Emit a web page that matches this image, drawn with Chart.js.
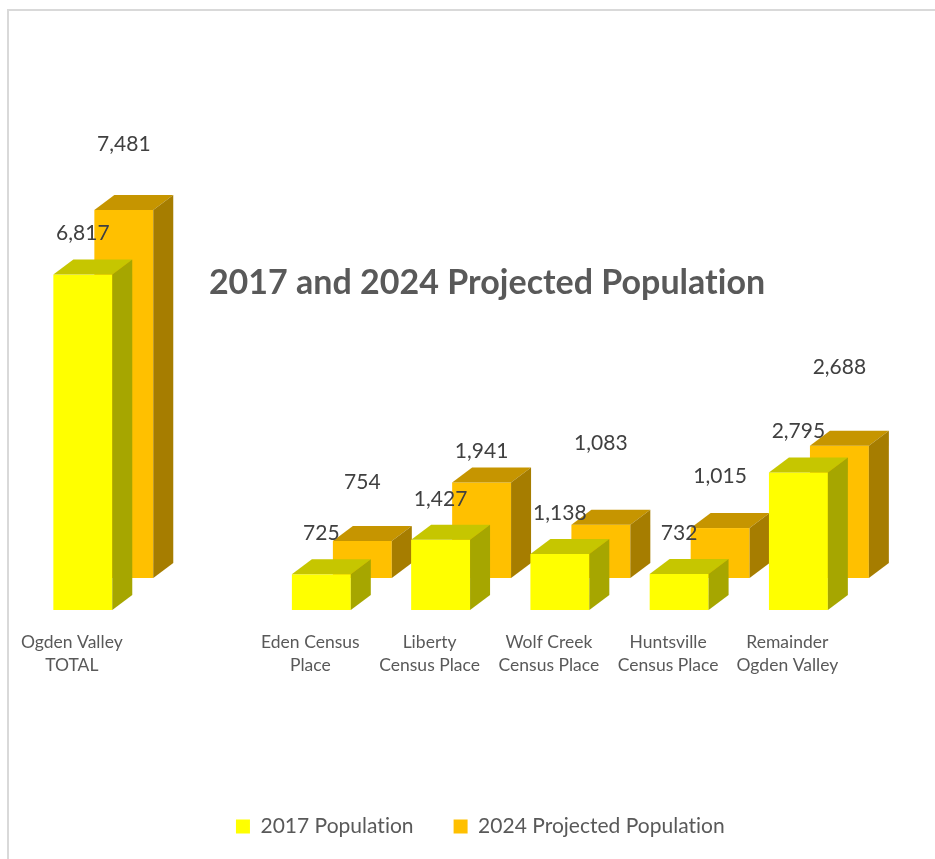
<!DOCTYPE html>
<html>
<head>
<meta charset="utf-8">
<script src="https://cdn.jsdelivr.net/npm/chart.js@4"></script>
<style>
	html, body { margin: 0; padding: 0; background: #ffffff; }
	#wrap { position: relative; width: 935px; height: 859px; }
</style>
</head>
<body>
<div id="wrap"><canvas id="chart"></canvas></div>
<script>
const categories = [
	['Ogden Valley', 'TOTAL'],
	'',
	['Eden Census', 'Place'],
	['Liberty', 'Census Place'],
	['Wolf Creek', 'Census Place'],
	['Huntsville', 'Census Place'],
	['Remainder', 'Ogden Valley']
];
const population2017 = [6817, null, 725, 1427, 1138, 732, 2795];
const population2024 = [7481, null, 754, 1941, 1083, 1015, 2688];
// how far the 2024 labels sit above their bars in the original (px)
const label2024Lift = [66, null, 59, 31, 81, 52, 79];

const chartTitle = '2017 and 2024 Projected Population';
const faceColors = [
	{ front: '#FFFF00', top: '#C6C600', side: '#A6A600' },
	{ front: '#FFC000', top: '#C69500', side: '#A67D00' }
];
// depth of each box and the shift of the back row
const depthX = 20, depthY = 15;
const rowShift = [{ x: 11, y: 0 }, { x: 52, y: -32 }];

function drawBox(ctx, x0, x1, top, bottom, colors) {
	ctx.fillStyle = colors.front;
	ctx.fillRect(x0, top, x1 - x0, bottom - top);

	ctx.fillStyle = colors.top;
	ctx.beginPath();
	ctx.moveTo(x0, top);
	ctx.lineTo(x0 + depthX, top - depthY);
	ctx.lineTo(x1 + depthX, top - depthY);
	ctx.lineTo(x1, top);
	ctx.closePath();
	ctx.fill();

	ctx.fillStyle = colors.side;
	ctx.beginPath();
	ctx.moveTo(x1, top);
	ctx.lineTo(x1 + depthX, top - depthY);
	ctx.lineTo(x1 + depthX, bottom - depthY);
	ctx.lineTo(x1, bottom);
	ctx.closePath();
	ctx.fill();
}

const boxes3d = {
	id: 'boxes3d',
	beforeDraw(chart) {
		var ctx = chart.ctx;
		// a tiny spacing keeps Lato from joining "ti" into a ligature
		ctx.letterSpacing = '0.01px';
		ctx.save();
		ctx.fillStyle = '#ffffff';
		ctx.fillRect(0, 0, chart.width, chart.height);
		ctx.strokeStyle = '#d9d9d9';
		ctx.lineWidth = 2;
		ctx.beginPath();
		ctx.moveTo(8, chart.height);
		ctx.lineTo(8, 10);
		ctx.lineTo(chart.width, 10);
		ctx.stroke();
		ctx.restore();
	},
	beforeDatasetsDraw(chart) {
		var ctx = chart.ctx;
		ctx.save();
		// back row first, then the front row over it
		[1, 0].forEach((di) => {
			var meta = chart.getDatasetMeta(di);
			meta.data.forEach((bar, i) => {
				if (chart.data.datasets[di].data[i] == null) return;
				var half = bar.width / 2;
				var sx = bar.x + rowShift[di].x;
				drawBox(ctx, sx - half, sx + half, bar.y + rowShift[di].y, bar.base + rowShift[di].y, faceColors[di]);
			});
		});

		ctx.font = '21px Lato';
		ctx.fillStyle = '#404040';
		ctx.textAlign = 'center';
		ctx.textBaseline = 'middle';
		[0, 1].forEach((di) => {
			var meta = chart.getDatasetMeta(di);
			var values = chart.data.datasets[di].data;
			meta.data.forEach((bar, i) => {
				if (values[i] == null) return;
				var lift = di === 0 ? 41 : label2024Lift[i];
				var y = bar.y + rowShift[di].y - lift;
				ctx.fillText(values[i].toLocaleString('en-US'), bar.x + rowShift[di].x, y);
			});
		});
		ctx.restore();
		return false;
	},
	afterDraw(chart) {
		var ctx = chart.ctx;
		ctx.save();
		ctx.font = 'bold 34px Lato';
		ctx.fillStyle = '#595959';
		ctx.textAlign = 'center';
		ctx.textBaseline = 'alphabetic';
		ctx.fillText(chartTitle, 487, 294);
		ctx.restore();
	}
};

new Chart(document.getElementById('chart'), {
	type: 'bar',
	data: {
		labels: categories,
		datasets: [{
			label: '2017 Population',
			data: population2017,
			backgroundColor: faceColors[0].front,
			borderWidth: 0
		}, {
			label: '2024 Projected Population',
			data: population2024,
			backgroundColor: faceColors[1].front,
			borderWidth: 0
		}]
	},
	options: {
		responsive: true,
		maintainAspectRatio: false,
		animation: false,
		grouped: false,
		categoryPercentage: 1,
		barPercentage: 0.494,
		layout: {
			padding: { top: 216.4, left: 71, right: 45, bottom: 12 }
		},
		scales: {
			x: {
				offset: false,
				grid: { display: false, drawTicks: false },
				border: { display: false },
				ticks: {
					color: '#595959',
					font: { family: 'Lato', size: 17.5, lineHeight: 1.3 },
					padding: 21,
					maxRotation: 0,
					autoSkip: false
				},
				afterFit: (scale) => { scale.height = 166; }
			},
			y: {
				position: 'right',
				min: 0,
				max: 8000,
				grid: { display: false, drawTicks: false },
				border: { display: false },
				ticks: { display: false },
				afterFit: (scale) => { scale.width = 102.6; }
			}
		},
		plugins: {
			title: { display: false },
			tooltip: { enabled: false },
			legend: {
				position: 'bottom',
				labels: {
					color: '#595959',
					font: { family: 'Lato', size: 21 },
					boxWidth: 14,
					boxHeight: 14,
					padding: 40
				}
			}
		}
	},
	plugins: [boxes3d]
});
</script>
</body>
</html>
